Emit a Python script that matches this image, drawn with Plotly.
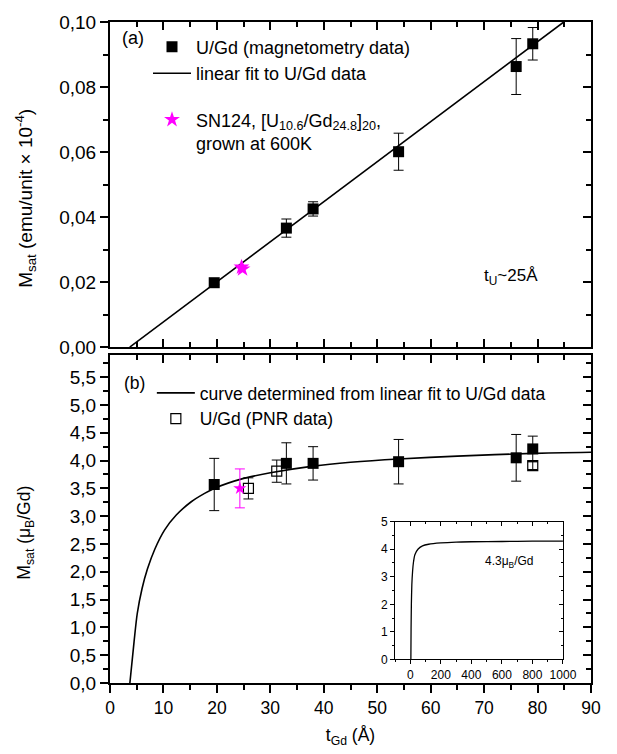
import plotly.graph_objects as go

# ---------------- data ----------------
# panel (a): saturation magnetisation (emu/unit x 1e-4) vs Gd thickness
t_mag = [19.5, 33.0, 38.0, 54.0, 76.0, 79.1]
m_mag = [0.0198, 0.0366, 0.0425, 0.0601, 0.0863, 0.0933]
m_mag_err = [0.0006, 0.0028, 0.0022, 0.0057, 0.0086, 0.0050]

t_fit = [3.7, 84.9]
m_fit = [0.0, 0.100]

t_sn_a = [24.6, 24.8]
m_sn_a = [0.0246, 0.0240]

# panel (b): moment per Gd (mu_B/Gd)
t_b = [19.5, 33.0, 38.0, 54.0, 76.0, 79.1]
mu_b = [3.57, 3.95, 3.95, 3.98, 4.05, 4.21]
mu_b_err = [0.47, 0.37, 0.30, 0.40, 0.42, 0.23]

t_pnr = [25.9, 31.2, 79.1]
mu_pnr = [3.50, 3.81, 3.91]
mu_pnr_err = [0.19, 0.20, 0.07]

t_sn_b = [24.3]
mu_sn_b = [3.50]
mu_sn_b_err = [0.35]

t_curve = [3.72, 4.5, 5.1, 6.0, 7.0, 8.4, 10.2, 12.4, 15.2, 17.7, 19.5, 25, 30, 38, 45, 54, 65, 79, 90]
mu_curve = [0.0, 0.74, 1.25, 1.70, 2.05, 2.41, 2.75, 3.02, 3.26, 3.41, 3.50, 3.68, 3.78, 3.90, 3.97, 4.03, 4.08, 4.13, 4.15]

# inset
t_inset = [3.7, 5, 7, 10, 15, 20, 30, 50, 80, 120, 200, 300, 400, 600, 800, 1000]
mu_inset = [0.0, 1.1, 2.0, 2.7, 3.2, 3.5, 3.8, 4.0, 4.12, 4.18, 4.23, 4.26, 4.27, 4.28, 4.29, 4.29]

ya_vals = [0.0, 0.02, 0.04, 0.06, 0.08, 0.10]
ya_text = ["0,00", "0,02", "0,04", "0,06", "0,08", "0,10"]
yb_vals = [0.0, 0.5, 1.0, 1.5, 2.0, 2.5, 3.0, 3.5, 4.0, 4.5, 5.0, 5.5]
yb_text = ["0,0", "0,5", "1,0", "1,5", "2,0", "2,5", "3,0", "3,5", "4,0", "4,5", "5,0", "5,5"]
x_vals = [0, 10, 20, 30, 40, 50, 60, 70, 80, 90]
inset_x_vals = [0, 200, 400, 600, 800, 1000]
inset_y_vals = [0, 1, 2, 3, 4, 5]

FONT = "Arial, Liberation Sans, sans-serif"
MAG = "#FF00FF"

fig = go.Figure()

# ---- panel (a) ----
fig.add_trace(go.Scatter(
    x=t_mag, y=m_mag, mode="markers", xaxis="x2", yaxis="y2",
    marker=dict(symbol="square", size=11, color="black"),
    error_y=dict(type="data", array=m_mag_err, color="black", thickness=1, width=5),
    name="U/Gd (magnetometry data)", legend="legend", legendgroup="g1"))
fig.add_trace(go.Scatter(
    x=t_fit, y=m_fit, mode="lines", xaxis="x2", yaxis="y2",
    line=dict(color="black", width=1.6),
    name="linear fit to U/Gd data", legend="legend", legendgroup="g1"))
fig.add_trace(go.Scatter(
    x=t_sn_a, y=m_sn_a, mode="markers", xaxis="x2", yaxis="y2",
    marker=dict(symbol="star", size=12, color=MAG, line=dict(width=0)),
    name="SN124, [U<sub>10.6</sub>/Gd<sub>24.8</sub>]<sub>20</sub>,<br>grown at 600K",
    legend="legend", legendgroup="g2"))

# ---- panel (b) ----
fig.add_trace(go.Scatter(
    x=t_curve, y=mu_curve, mode="lines", xaxis="x", yaxis="y",
    line=dict(color="black", width=1.6, shape="spline", smoothing=0.8),
    name="curve determined from linear fit to U/Gd data", legend="legend2"))
fig.add_trace(go.Scatter(
    x=t_pnr, y=mu_pnr, mode="markers", xaxis="x", yaxis="y",
    marker=dict(symbol="square-open", size=10, color="black", line=dict(width=1.2)),
    error_y=dict(type="data", array=mu_pnr_err, color="black", thickness=1, width=5),
    name="U/Gd (PNR data)", legend="legend2"))
fig.add_trace(go.Scatter(
    x=t_b, y=mu_b, mode="markers", xaxis="x", yaxis="y",
    marker=dict(symbol="square", size=11, color="black"),
    error_y=dict(type="data", array=mu_b_err, color="black", thickness=1, width=5),
    showlegend=False))
fig.add_trace(go.Scatter(
    x=t_sn_b, y=mu_sn_b, mode="markers", xaxis="x", yaxis="y",
    marker=dict(symbol="star", size=10, color=MAG, line=dict(width=0)),
    error_y=dict(type="data", array=mu_sn_b_err, color=MAG, thickness=1, width=5),
    showlegend=False))

# ---- inset ----
fig.add_trace(go.Scatter(
    x=t_inset, y=mu_inset, mode="lines", xaxis="x3", yaxis="y3",
    line=dict(color="black", width=1.3, shape="spline", smoothing=0.6),
    showlegend=False))

# empty traces to host the overlay (inside-tick) axes
for xa, ya in [("x4", "y4"), ("x2", "y5"), ("x5", "y6")]:
    fig.add_trace(go.Scatter(x=[], y=[], xaxis=xa, yaxis=ya, showlegend=False, hoverinfo="skip"))

ytickfont = dict(family=FONT, size=19, color="black")
xtickfont = dict(family=FONT, size=17.5, color="black")
common = dict(showline=True, linecolor="black", linewidth=2, showgrid=False, zeroline=False,
              tickcolor="black", tickwidth=1.5)
ovl = dict(showline=False, showgrid=False, zeroline=False, tickcolor="black", tickwidth=1.5,
           showticklabels=False, ticks="inside", ticklen=8)


def minor(dt, kind, ln=5, w=1.5):
    return dict(dtick=dt, tick0=0, ticks=kind, ticklen=ln, tickwidth=w, tickcolor="black")


top_dom = [0.5082, 1.0]
bot_dom = [0.0, 0.4963]

fig.update_layout(
    width=617, height=754,
    margin=dict(l=110, r=23, t=12, b=69),
    paper_bgcolor="white", plot_bgcolor="white",
    font=dict(family=FONT, color="black"),
    # bottom panel x
    xaxis=dict(domain=[0, 1], anchor="y", range=[0, 90], ticks="outside", ticklen=8,
               tickvals=x_vals, tickfont=xtickfont, minor=minor(5, "outside"), mirror=True,
               title=dict(text="t<sub>Gd</sub> (Å)", font=dict(family=FONT, size=17.5), standoff=12),
               **common),
    xaxis4=dict(overlaying="x", anchor="y", side="top", range=[0, 90], tickvals=x_vals,
                minor=minor(5, "inside"), **ovl),
    # top panel x
    xaxis2=dict(domain=[0, 1], anchor="y2", range=[0, 90], ticks="inside", ticklen=8,
                tickvals=x_vals, showticklabels=False, minor=minor(5, "inside"),
                mirror="ticks", **common),
    # bottom panel y
    yaxis=dict(domain=bot_dom, anchor="x", range=[0, 5.9], ticks="outside", ticklen=8,
               tickvals=yb_vals, ticktext=yb_text, tickfont=ytickfont,
               minor=minor(0.25, "outside"), mirror=True, **common),
    yaxis4=dict(overlaying="y", anchor="x", side="right", range=[0, 5.9], tickvals=yb_vals,
                minor=minor(0.25, "inside"), **ovl),
    # top panel y
    yaxis2=dict(domain=top_dom, anchor="x2", range=[0, 0.10], ticks="outside", ticklen=8,
                tickvals=ya_vals, ticktext=ya_text, tickfont=ytickfont,
                minor=minor(0.01, "outside"), mirror=True, **common),
    yaxis5=dict(overlaying="y2", anchor="x2", side="right", range=[0, 0.10], tickvals=ya_vals,
                minor=minor(0.01, "inside"), **ovl),
    # inset
    xaxis3=dict(domain=[0.5926, 0.9417], anchor="y3", range=[-100, 1000], ticks="outside", ticklen=4,
                tickvals=inset_x_vals, tickfont=dict(family=FONT, size=12, color="black"),
                minor=minor(100, "outside", 2, 1), mirror=True, showline=True, linecolor="black",
                linewidth=1, showgrid=False, zeroline=False, tickcolor="black", tickwidth=1),
    xaxis5=dict(overlaying="x3", anchor="y3", side="top", range=[-100, 1000], tickvals=inset_x_vals,
                showticklabels=False, ticks="inside", ticklen=4, minor=minor(100, "inside", 2, 1),
                showline=False, showgrid=False, zeroline=False, tickcolor="black", tickwidth=1),
    yaxis3=dict(domain=[0.0357, 0.2441], anchor="x3", range=[0, 5], ticks="outside", ticklen=4,
                tickvals=inset_y_vals, tickfont=dict(family=FONT, size=12, color="black"),
                minor=minor(0.5, "outside", 2, 1), mirror=True, showline=True, linecolor="black",
                linewidth=1, showgrid=False, zeroline=False, tickcolor="black", tickwidth=1),
    yaxis6=dict(overlaying="y3", anchor="x3", side="right", range=[0, 5], tickvals=inset_y_vals,
                showticklabels=False, ticks="inside", ticklen=4, minor=minor(0.5, "inside", 2, 1),
                showline=False, showgrid=False, zeroline=False, tickcolor="black", tickwidth=1),
    legend=dict(x=0.079, y=0.99, xanchor="left", yanchor="top", bgcolor="rgba(0,0,0,0)",
                borderwidth=0, traceorder="grouped", tracegroupgap=20, valign="top", itemwidth=38,
                font=dict(family=FONT, size=18, color="black")),
    legend2=dict(x=0.087, y=0.466, xanchor="left", yanchor="top", bgcolor="rgba(0,0,0,0)",
                 borderwidth=0, traceorder="normal", valign="middle", itemwidth=38,
                 font=dict(family=FONT, size=17.5, color="black")),
    showlegend=True,
)

# axis titles as annotations (placed like the reference)
fig.add_annotation(text="M<sub>sat</sub> (emu/unit × 10<sup>-4</sup>)", xref="paper", yref="paper",
                   x=-0.176, y=0.733, textangle=-90, showarrow=False, xanchor="center", yanchor="middle",
                   font=dict(family=FONT, size=19, color="black"))
fig.add_annotation(text="M<sub>sat</sub> (μ<sub>B</sub>/Gd)", xref="paper", yref="paper",
                   x=-0.176, y=0.228, textangle=-90, showarrow=False, xanchor="center", yanchor="middle",
                   font=dict(family=FONT, size=17.5, color="black"))

fig.add_annotation(text="(a)", xref="x2 domain", yref="y2 domain", x=0.02, y=0.95,
                   xanchor="left", yanchor="middle", showarrow=False,
                   font=dict(family=FONT, size=18, color="black"))
fig.add_annotation(text="(b)", xref="x domain", yref="y domain", x=0.024, y=0.915,
                   xanchor="left", yanchor="middle", showarrow=False,
                   font=dict(family=FONT, size=17.5, color="black"))
fig.add_annotation(text="t<sub>U</sub>~25Å", xref="x2", yref="y2", x=75, y=0.0215,
                   xanchor="center", yanchor="middle", showarrow=False,
                   font=dict(family=FONT, size=17, color="black"))
fig.add_annotation(text="4.3μ<sub>B</sub>/Gd", xref="x3", yref="y3", x=650, y=3.55,
                   xanchor="center", yanchor="middle", showarrow=False,
                   font=dict(family=FONT, size=12, color="black"))

fig.write_html("out.html")
